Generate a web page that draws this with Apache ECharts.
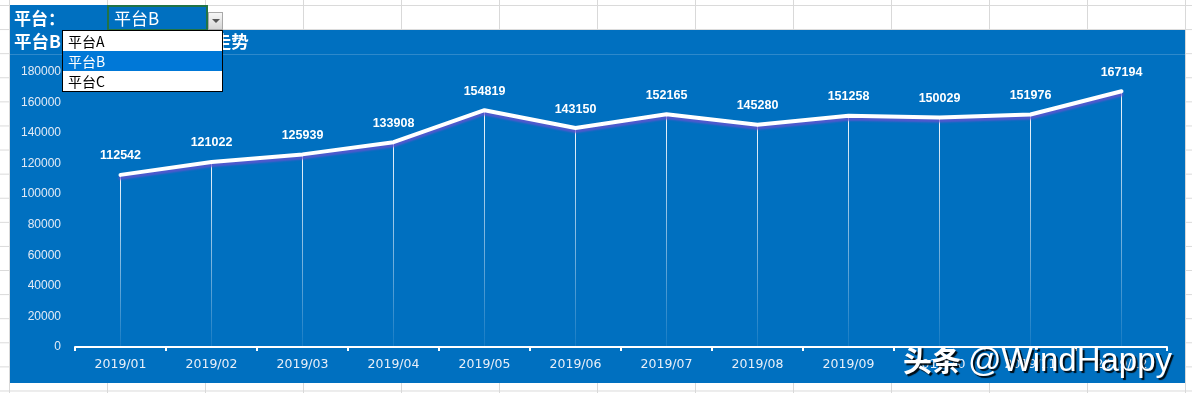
<!DOCTYPE html>
<html>
<head>
<meta charset="utf-8">
<script src="https://cdn.jsdelivr.net/npm/echarts@6/dist/echarts.min.js"></script>
<style>
  html, body { margin:0; padding:0; }
  body {
    width:1192px; height:393px; overflow:hidden; position:relative;
    background-color:#ffffff;
    background-image:
      linear-gradient(to right, #d9d9d9 1px, transparent 1px),
      linear-gradient(to bottom, #d9d9d9 1px, transparent 1px);
    background-size: 98px 100%, 100% 24.1px;
    background-position: 9px 0, 0 5px;
    font-family: "Noto Sans CJK SC", "Liberation Sans", sans-serif;
  }
  .blue { position:absolute; background:#0070C0; }
  #chart { position:absolute; left:0; top:0; width:1192px; height:393px; }
  .ov { position:absolute; z-index:10; }
  #lbl { left:14px; top:5px; height:25px; line-height:25px; color:#fff; font-size:17px; font-weight:bold; }
  #cell { left:107px; top:5px; width:97px; height:22px; border:2px solid #217346; border-bottom-width:1px; color:#fff; font-size:17px; line-height:22px; padding-left:0; }
  #cell span { margin-left:5px; }
  #btn { left:208px; top:12px; width:13px; height:16px; border:1px solid #a9a9a9; background:linear-gradient(#f6f6f6,#d6d6d6); }
  #btn::after { content:""; position:absolute; left:3px; top:6px; border-left:4px solid transparent; border-right:4px solid transparent; border-top:4px solid #555; }
  #dd { left:62px; top:30px; width:159px; height:60px; border:1px solid #000; background:#fff; }
  #dd div { height:20px; line-height:20px; font-size:14px; padding-left:5px; color:#000; }
  #dd div.sel { background:#0078d7; color:#fff; }
</style>
</head>
<body>
<div class="blue" style="left:10px;top:5px;width:197px;height:25px;"></div>
<div class="blue" style="left:10px;top:30px;width:1175px;height:353px;"></div>
<div style="position:absolute;left:10px;top:54px;width:1175px;height:1px;background:rgba(255,255,255,0.18);"></div>
<div id="chart"></div>
<div class="ov" id="lbl">平台：</div>
<div class="ov" id="cell"><span>平台B</span></div>
<div class="ov" id="btn"></div>
<div class="ov" id="dd"><div>平台A</div><div class="sel">平台B</div><div>平台C</div></div>
<script>
const months = ['2019/01','2019/02','2019/03','2019/04','2019/05','2019/06','2019/07','2019/08','2019/09','2019/10','2019/11','2019/12'];
const sales = [112542,121022,125939,133908,154819,143150,152165,145280,151258,150029,151976,167194];
const yMin = 0, yMax = 180000, yStep = 20000;
const titleText = '平台B 2019年1-12月销售走势';
const watermarkA = '头条';
const watermarkB = '@WindHappy';

const chart = echarts.init(document.getElementById('chart'), null, {renderer:'canvas'});
chart.setOption({
  backgroundColor: 'transparent',
  animation: false,
  title: {
    text: titleText, left: 14, top: 33, padding: 0,
    textStyle: { color:'#fff', fontSize:17.5, fontWeight:'bold', fontFamily:'Noto Sans CJK SC' }
  },
  grid: { left:75, right:25, top:71.7, bottom:46, containLabel:false },
  xAxis: {
    type:'category', data: months, boundaryGap:true,
    axisLine: { show:true, lineStyle:{ color:'#ffffff', width:2 } },
    axisTick: { show:true, length:4, lineStyle:{ color:'#ffffff', width:2 } },
    axisLabel: { color:'#e8eff8', fontSize:12.5, margin:11, fontFamily:'DejaVu Sans' },
    splitLine: { show:false }
  },
  yAxis: {
    type:'value', min:yMin, max:yMax, interval:yStep,
    axisLine:{ show:false }, axisTick:{ show:false }, splitLine:{ show:false },
    axisLabel:{ color:'#e3ebf6', fontSize:12, margin:14, fontFamily:'Liberation Sans',
      formatter: v => String(v) }
  },
  series: [
    {
      type:'bar', data: sales, barWidth:1, silent:true, z:1,
      itemStyle:{ color: new echarts.graphic.LinearGradient(0,0,0,1,[
        {offset:0, color:'rgba(255,255,255,0.95)'},
        {offset:1, color:'rgba(255,255,255,0.08)'}
      ]) }
    },
    {
      type:'line', data: sales, symbol:'circle', symbolSize:1, showSymbol:true, z:3,
      itemStyle:{ color:'#ffffff' },
      lineStyle:{ color:'#ffffff', width:4, cap:'round', join:'round',
        shadowColor:'rgba(110,80,210,0.75)', shadowOffsetY:3, shadowOffsetX:0, shadowBlur:2 },
      label:{ show:true, position:'top', distance:12, color:'#ffffff', fontWeight:'bold', fontSize:12.5, fontFamily:'Liberation Sans' }
    }
  ],
  graphic: [
    { type:'text', left:903, top:346, z:100,
      style:{ text: watermarkA, fill:'#fff', font:'bold 29px "Noto Sans CJK SC"',
        textShadowColor:'rgba(0,0,0,0.9)', textShadowOffsetX:2, textShadowOffsetY:2, textShadowBlur:1 } },
    { type:'text', left:968, top:345, z:100,
      style:{ text: watermarkB, fill:'#fff', font:'33px "Liberation Sans"',
        textShadowColor:'rgba(0,0,0,0.9)', textShadowOffsetX:2, textShadowOffsetY:2, textShadowBlur:1 } }
  ]
});
</script>
</body>
</html>
